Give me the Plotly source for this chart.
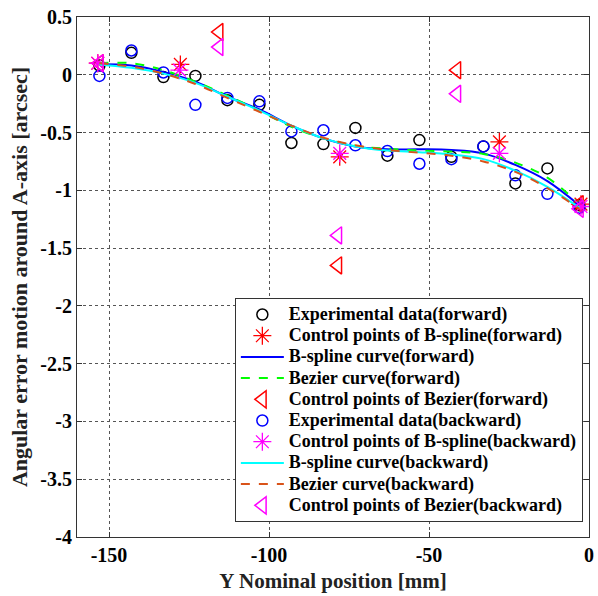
import plotly.graph_objects as go

# Experimental data
x_exp = [-153, -143, -133, -123, -113, -103, -93, -83, -73, -63, -53, -43, -33, -23, -13, -3]
y_exp_fwd = [0.08, 0.19, -0.02, -0.01, -0.22, -0.26, -0.59, -0.60, -0.46, -0.70, -0.565, -0.71, -0.62, -0.94, -0.81, -1.13]
y_exp_bwd = [-0.01, 0.21, 0.02, -0.26, -0.20, -0.23, -0.49, -0.48, -0.61, -0.66, -0.77, -0.73, -0.62, -0.87, -1.03, -1.15]

# B-spline control points
x_bs_ctrl_fwd = [-153.5, -127.7, -77.9, -28.0, -2.5]
y_bs_ctrl_fwd = [0.10, 0.09, -0.71, -0.58, -1.12]
x_bs_ctrl_bwd = [-153.5, -128.0, -77.9, -28.0, -2.5]
y_bs_ctrl_bwd = [0.10, 0.04, -0.68, -0.68, -1.14]

# Bezier control points
x_bz_ctrl = [-153.0, -115.6, -78.5, -41.3, -3.0]
y_bz_ctrl_fwd = [0.10, 0.37, -1.65, 0.04, -1.12]
y_bz_ctrl_bwd = [0.10, 0.24, -1.39, -0.165, -1.16]

# Curves
x_curve = [-153, -143, -133, -123, -113, -103, -93, -83, -73, -63, -53, -43, -33, -23, -13, -3]
y_bs_fwd = [0.09, 0.08, 0.025, -0.06, -0.19, -0.30, -0.44, -0.55, -0.62, -0.645, -0.645, -0.65, -0.68, -0.78, -0.92, -1.13]
y_bz_fwd = [0.10, 0.10, 0.04, -0.06, -0.18, -0.31, -0.45, -0.55, -0.615, -0.64, -0.655, -0.665, -0.685, -0.76, -0.89, -1.12]
y_bs_bwd = [0.09, 0.06, 0.01, -0.07, -0.19, -0.31, -0.44, -0.55, -0.62, -0.655, -0.67, -0.69, -0.73, -0.83, -0.97, -1.15]
y_bz_bwd = [0.10, 0.07, 0.01, -0.08, -0.20, -0.32, -0.44, -0.545, -0.61, -0.65, -0.675, -0.70, -0.75, -0.84, -0.98, -1.16]

x_ticks = [-150, -100, -50, 0]
x_tick_text = ["-150", "-100", "-50", "0"]
y_ticks = [0.5, 0, -0.5, -1, -1.5, -2, -2.5, -3, -3.5, -4]
y_tick_text = ["0.5", "0", "-0.5", "-1", "-1.5", "-2", "-2.5", "-3", "-3.5", "-4"]

FONT = "Times New Roman, Liberation Serif, DejaVu Serif, serif"
ORANGE = "#D95319"


def lg(name):
    return '<span style="font-size:18px">' + name + '</span>'


fig = go.Figure()
fig.add_trace(go.Scatter(x=x_exp, y=y_exp_fwd, mode="markers", name=lg("Experimental data(forward)"),
                         marker=dict(symbol="circle-open", size=11, color="black", line=dict(width=1.5))))
fig.add_trace(go.Scatter(x=x_bs_ctrl_fwd, y=y_bs_ctrl_fwd, mode="markers", name=lg("Control points of B-spline(forward)"),
                         marker=dict(symbol="asterisk-open", size=15, color="red", line=dict(width=1.3, color="red"))))
fig.add_trace(go.Scatter(x=x_curve, y=y_bs_fwd, mode="lines", name=lg("B-spline curve(forward)"),
                         line=dict(color="blue", width=2, shape="spline")))
fig.add_trace(go.Scatter(x=x_curve, y=y_bz_fwd, mode="lines", name=lg("Bezier curve(forward)"),
                         line=dict(color="#00FF00", width=2, dash="dash", shape="spline")))
fig.add_trace(go.Scatter(x=x_bz_ctrl, y=y_bz_ctrl_fwd, mode="markers", name=lg("Control points of Bezier(forward)"),
                         marker=dict(symbol="triangle-left-open", size=15, color="red", line=dict(width=1.5))))
fig.add_trace(go.Scatter(x=x_exp, y=y_exp_bwd, mode="markers", name=lg("Experimental data(backward)"),
                         marker=dict(symbol="circle-open", size=11, color="blue", line=dict(width=1.5))))
fig.add_trace(go.Scatter(x=x_bs_ctrl_bwd, y=y_bs_ctrl_bwd, mode="markers", name=lg("Control points of B-spline(backward)"),
                         marker=dict(symbol="asterisk-open", size=15, color="magenta", line=dict(width=1.3, color="magenta"))))
fig.add_trace(go.Scatter(x=x_curve, y=y_bs_bwd, mode="lines", name=lg("B-spline curve(backward)"),
                         line=dict(color="cyan", width=2, shape="spline")))
fig.add_trace(go.Scatter(x=x_curve, y=y_bz_bwd, mode="lines", name=lg("Bezier curve(backward)"),
                         line=dict(color=ORANGE, width=2, dash="dash", shape="spline")))
fig.add_trace(go.Scatter(x=x_bz_ctrl, y=y_bz_ctrl_bwd, mode="markers", name=lg("Control points of Bezier(backward)"),
                         marker=dict(symbol="triangle-left-open", size=15, color="magenta", line=dict(width=1.5))))

axis_common = dict(showline=True, linecolor="#333333", linewidth=1, mirror="ticks",
                   ticks="inside", ticklen=5, tickcolor="#333333",
                   showgrid=True, gridcolor="#555555", griddash="dot", gridwidth=1,
                   zeroline=False, ticklabeloverflow="allow",
                   tickfont=dict(family=FONT, size=20, color="black", weight="bold"))

fig.update_xaxes(range=[-160, 0], tickvals=x_ticks, ticktext=x_tick_text,
                 title=dict(text="Y Nominal position [mm]", standoff=8,
                            font=dict(family=FONT, size=21, color="#222222", weight="bold")),
                 **axis_common)
fig.update_yaxes(range=[-4, 0.5], tickvals=y_ticks, ticktext=y_tick_text,
                 title=dict(text="Angular error motion around A-axis [arcsec]", standoff=6,
                            font=dict(family=FONT, size=22, color="#222222", weight="bold")),
                 **axis_common)

fig.update_layout(
    width=598, height=596,
    margin=dict(l=77, r=4, t=17, b=59),
    paper_bgcolor="white", plot_bgcolor="white",
    showlegend=True,
    legend=dict(x=0.988, y=0.029, xanchor="right", yanchor="bottom",
                bgcolor="white", bordercolor="#333333", borderwidth=1,
                font=dict(family=FONT, size=14, color="black", weight="bold"),
                tracegroupgap=0, itemwidth=43),
)

fig.write_html("out.html")
